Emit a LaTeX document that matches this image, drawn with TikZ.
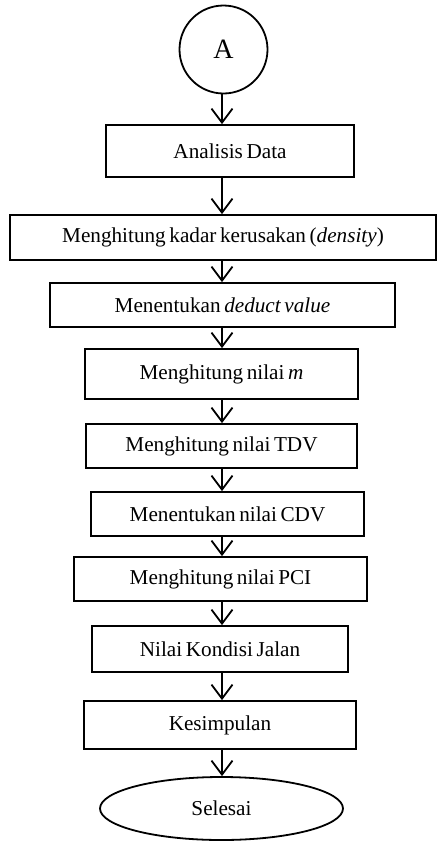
\documentclass[tikz,border=0pt]{standalone}
\usepackage{fontspec}
\setmainfont{Liberation Serif}
\usepackage{tikz}
\usetikzlibrary{arrows.meta,shapes.geometric,calc}

\newcommand{\hurufkotak}{\fontsize{10.6}{13}\selectfont\spaceskip=0.17em\relax}

\tikzset{
proses/.style={draw, line width=0.9pt, rectangle, inner sep=0pt, anchor=center},
lingkar/.style={draw, line width=0.9pt, circle, inner sep=0pt, minimum size=44pt, font=\fontsize{14}{16}\selectfont},
selesai/.style={draw, line width=0.9pt, ellipse, inner sep=0pt, minimum width=121.5pt, minimum height=31.5pt},
panah/.style={line width=0.9pt, -{Straight Barb[length=7pt,width=10.5pt,line width=0.9pt]}}
}

\begin{document}
\begin{tikzpicture}[x=1pt,y=-1pt,font=\hurufkotak]
\useasboundingbox (0,0) rectangle (218.5,420.5);
\coordinate (sumbu) at (111,0);
\node[lingkar] (A) at (111.75,24.75) {A};
\node[proses, minimum width=124pt, minimum height=26pt] (analisis) at (115,75.5) {Analisis Data};
\node[proses, minimum width=213pt, minimum height=22.5pt] (density) at (111.5,118.75) {Menghitung kadar kerusakan (\textit{density})};
\node[proses, minimum width=172.5pt, minimum height=22pt] (deduct) at (111.25,152.5) {Menentukan \textit{deduct value}};
\node[proses, minimum width=136.5pt, minimum height=25pt] (nilaim) at (110.75,187) {Menghitung nilai \textit{m}};
\node[proses, minimum width=135.5pt, minimum height=22pt] (tdv) at (110.75,223) {Menghitung nilai TDV};
\node[proses, minimum width=136.5pt, minimum height=22pt] (cdv) at (113.75,257) {Menentukan nilai CDV};
\node[proses, minimum width=146.5pt, minimum height=22pt] (pci) at (110.25,289.5) {Menghitung nilai PCI};
\node[proses, minimum width=128pt, minimum height=23pt] (kondisi) at (110,324.5) {Nilai Kondisi Jalan};
\node[proses, minimum width=136pt, minimum height=24pt] (kesimpulan) at (110,362.5) {Kesimpulan};
\node[selesai] (akhir) at (110.75,404.25) {Selesai};

\foreach \a/\b in {A/analisis,analisis/density,density/deduct,deduct/nilaim,nilaim/tdv,tdv/cdv,cdv/pci,pci/kondisi,kondisi/kesimpulan,kesimpulan/akhir}
  \draw[panah] (sumbu |- \a.south) -- (sumbu |- \b.north);
\end{tikzpicture}
\end{document}
